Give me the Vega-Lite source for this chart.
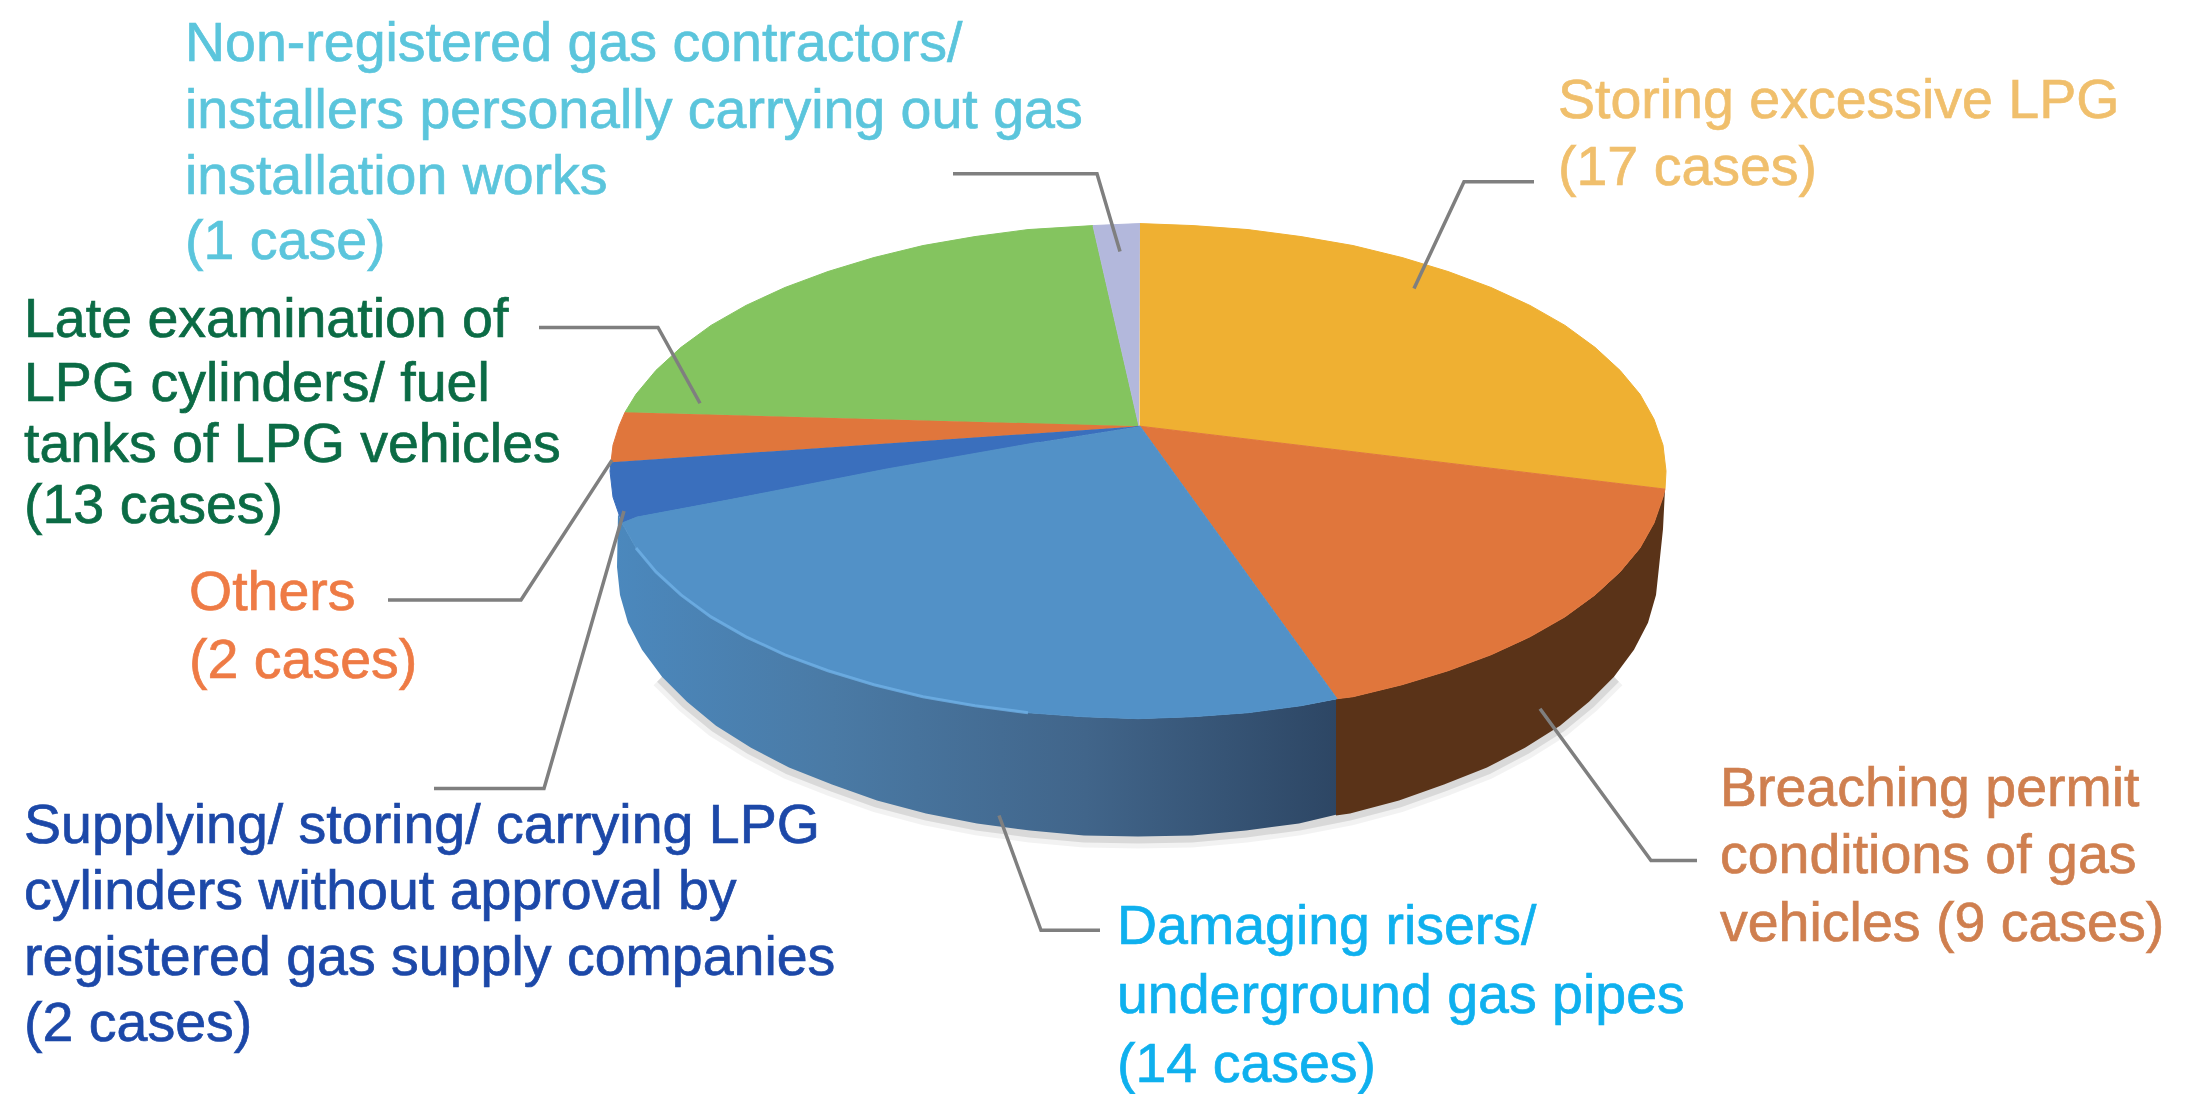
{"$schema":"https://vega.github.io/schema/vega-lite/v6.json","autosize":{"type":"fit","contains":"padding"},"width":2197,"height":1094,"padding":0,"background":"white","config":{"view":{"stroke":null}},
"resolve":{"scale":{"fill":"independent","stroke":"independent"}},
"datasets":{
"shadow":[{"step":3,"x":662,"y":678},{"step":4,"x":687,"y":703},{"step":5,"x":716,"y":727},{"step":6,"x":751,"y":749},{"step":7,"x":789,"y":769},{"step":8,"x":832,"y":786},{"step":9,"x":877,"y":802},{"step":10,"x":926,"y":815},{"step":11,"x":977,"y":825},{"step":12,"x":1030,"y":832},{"step":13,"x":1084,"y":837},{"step":14,"x":1138,"y":838},{"step":15,"x":1192,"y":837},{"step":16,"x":1246,"y":832},{"step":17,"x":1299,"y":825},{"step":18,"x":1350,"y":815},{"step":19,"x":1399,"y":802},{"step":20,"x":1444,"y":786},{"step":21,"x":1487,"y":769},{"step":22,"x":1525,"y":749},{"step":23,"x":1560,"y":727},{"step":24,"x":1589,"y":703},{"step":25,"x":1614,"y":678}],
"blueWall":[{"step":1,"x":618,"y":515},{"step":2,"x":622,"y":524},{"step":3,"x":636,"y":549},{"step":4,"x":656,"y":573},{"step":5,"x":681,"y":596},{"step":6,"x":711,"y":618},{"step":7,"x":746,"y":638},{"step":8,"x":785,"y":656},{"step":9,"x":828,"y":672},{"step":10,"x":874,"y":686},{"step":11,"x":923,"y":698},{"step":12,"x":975,"y":707},{"step":13,"x":1028,"y":714},{"step":14,"x":1083,"y":718},{"step":15,"x":1138,"y":720},{"step":16,"x":1193,"y":718},{"step":17,"x":1248,"y":714},{"step":18,"x":1301,"y":707},{"step":19,"x":1338,"y":700},{"step":20,"x":1337,"y":816},{"step":21,"x":1299,"y":825},{"step":22,"x":1246,"y":832},{"step":23,"x":1192,"y":837},{"step":24,"x":1138,"y":838},{"step":25,"x":1084,"y":837},{"step":26,"x":1030,"y":832},{"step":27,"x":977,"y":825},{"step":28,"x":926,"y":815},{"step":29,"x":877,"y":802},{"step":30,"x":832,"y":786},{"step":31,"x":789,"y":769},{"step":32,"x":751,"y":749},{"step":33,"x":716,"y":727},{"step":34,"x":687,"y":703},{"step":35,"x":662,"y":678},{"step":36,"x":642,"y":651},{"step":37,"x":628,"y":624},{"step":38,"x":620,"y":596},{"step":39,"x":617,"y":568}],
"brownWall":[{"step":1,"x":1336,"y":700},{"step":2,"x":1353,"y":698},{"step":3,"x":1402,"y":686},{"step":4,"x":1448,"y":672},{"step":5,"x":1491,"y":656},{"step":6,"x":1530,"y":638},{"step":7,"x":1565,"y":618},{"step":8,"x":1595,"y":596},{"step":9,"x":1620,"y":573},{"step":10,"x":1640,"y":549},{"step":11,"x":1654,"y":524},{"step":12,"x":1663,"y":498},{"step":13,"x":1665,"y":490},{"step":14,"x":1663,"y":530},{"step":15,"x":1659,"y":568},{"step":16,"x":1656,"y":596},{"step":17,"x":1648,"y":624},{"step":18,"x":1634,"y":651},{"step":19,"x":1614,"y":678},{"step":20,"x":1589,"y":703},{"step":21,"x":1560,"y":727},{"step":22,"x":1525,"y":749},{"step":23,"x":1487,"y":769},{"step":24,"x":1444,"y":786},{"step":25,"x":1399,"y":802},{"step":26,"x":1350,"y":815},{"step":27,"x":1336,"y":817}],
"rim":[{"step":1,"x":636,"y":549},{"step":2,"x":656,"y":573},{"step":3,"x":681,"y":596},{"step":4,"x":711,"y":618},{"step":5,"x":746,"y":638},{"step":6,"x":785,"y":656},{"step":7,"x":828,"y":672},{"step":8,"x":874,"y":686},{"step":9,"x":923,"y":698},{"step":10,"x":975,"y":707},{"step":11,"x":1028,"y":714}],
"slices":[
{"slice":"Storing excessive LPG","cases":17,"step":1,"x":1140,"y":427},{"slice":"Storing excessive LPG","cases":17,"step":2,"x":1140,"y":224},{"slice":"Storing excessive LPG","cases":17,"step":3,"x":1193,"y":226},{"slice":"Storing excessive LPG","cases":17,"step":4,"x":1248,"y":230},{"slice":"Storing excessive LPG","cases":17,"step":5,"x":1301,"y":237},{"slice":"Storing excessive LPG","cases":17,"step":6,"x":1353,"y":246},{"slice":"Storing excessive LPG","cases":17,"step":7,"x":1402,"y":258},{"slice":"Storing excessive LPG","cases":17,"step":8,"x":1448,"y":272},{"slice":"Storing excessive LPG","cases":17,"step":9,"x":1491,"y":288},{"slice":"Storing excessive LPG","cases":17,"step":10,"x":1530,"y":306},{"slice":"Storing excessive LPG","cases":17,"step":11,"x":1565,"y":326},{"slice":"Storing excessive LPG","cases":17,"step":12,"x":1595,"y":348},{"slice":"Storing excessive LPG","cases":17,"step":13,"x":1620,"y":371},{"slice":"Storing excessive LPG","cases":17,"step":14,"x":1640,"y":395},{"slice":"Storing excessive LPG","cases":17,"step":15,"x":1654,"y":420},{"slice":"Storing excessive LPG","cases":17,"step":16,"x":1663,"y":446},{"slice":"Storing excessive LPG","cases":17,"step":17,"x":1666,"y":472},{"slice":"Storing excessive LPG","cases":17,"step":18,"x":1665,"y":490},
{"slice":"Breaching permit conditions of gas vehicles","cases":9,"step":1,"x":1140,"y":427},{"slice":"Breaching permit conditions of gas vehicles","cases":9,"step":2,"x":1665,"y":490},{"slice":"Breaching permit conditions of gas vehicles","cases":9,"step":3,"x":1663,"y":498},{"slice":"Breaching permit conditions of gas vehicles","cases":9,"step":4,"x":1654,"y":524},{"slice":"Breaching permit conditions of gas vehicles","cases":9,"step":5,"x":1640,"y":549},{"slice":"Breaching permit conditions of gas vehicles","cases":9,"step":6,"x":1620,"y":573},{"slice":"Breaching permit conditions of gas vehicles","cases":9,"step":7,"x":1595,"y":596},{"slice":"Breaching permit conditions of gas vehicles","cases":9,"step":8,"x":1565,"y":618},{"slice":"Breaching permit conditions of gas vehicles","cases":9,"step":9,"x":1530,"y":638},{"slice":"Breaching permit conditions of gas vehicles","cases":9,"step":10,"x":1491,"y":656},{"slice":"Breaching permit conditions of gas vehicles","cases":9,"step":11,"x":1448,"y":672},{"slice":"Breaching permit conditions of gas vehicles","cases":9,"step":12,"x":1402,"y":686},{"slice":"Breaching permit conditions of gas vehicles","cases":9,"step":13,"x":1353,"y":698},{"slice":"Breaching permit conditions of gas vehicles","cases":9,"step":14,"x":1337,"y":700},
{"slice":"Late examination of LPG cylinders/ fuel tanks","cases":13,"step":1,"x":1139,"y":427},{"slice":"Late examination of LPG cylinders/ fuel tanks","cases":13,"step":2,"x":625,"y":413},{"slice":"Late examination of LPG cylinders/ fuel tanks","cases":13,"step":3,"x":636,"y":395},{"slice":"Late examination of LPG cylinders/ fuel tanks","cases":13,"step":4,"x":656,"y":371},{"slice":"Late examination of LPG cylinders/ fuel tanks","cases":13,"step":5,"x":681,"y":348},{"slice":"Late examination of LPG cylinders/ fuel tanks","cases":13,"step":6,"x":711,"y":326},{"slice":"Late examination of LPG cylinders/ fuel tanks","cases":13,"step":7,"x":746,"y":306},{"slice":"Late examination of LPG cylinders/ fuel tanks","cases":13,"step":8,"x":785,"y":288},{"slice":"Late examination of LPG cylinders/ fuel tanks","cases":13,"step":9,"x":828,"y":272},{"slice":"Late examination of LPG cylinders/ fuel tanks","cases":13,"step":10,"x":874,"y":258},{"slice":"Late examination of LPG cylinders/ fuel tanks","cases":13,"step":11,"x":923,"y":246},{"slice":"Late examination of LPG cylinders/ fuel tanks","cases":13,"step":12,"x":975,"y":237},{"slice":"Late examination of LPG cylinders/ fuel tanks","cases":13,"step":13,"x":1028,"y":230},{"slice":"Late examination of LPG cylinders/ fuel tanks","cases":13,"step":14,"x":1093,"y":226},
{"slice":"Others","cases":2,"step":1,"x":1140,"y":427},{"slice":"Others","cases":2,"step":2,"x":611,"y":463},{"slice":"Others","cases":2,"step":3,"x":613,"y":446},{"slice":"Others","cases":2,"step":4,"x":619,"y":427},{"slice":"Others","cases":2,"step":5,"x":625,"y":413},
{"slice":"Supplying/ storing/ carrying LPG cylinders without approval","cases":2,"step":1,"x":1140,"y":427},{"slice":"Supplying/ storing/ carrying LPG cylinders without approval","cases":2,"step":2,"x":1039,"y":443},{"slice":"Supplying/ storing/ carrying LPG cylinders without approval","cases":2,"step":3,"x":886,"y":470},{"slice":"Supplying/ storing/ carrying LPG cylinders without approval","cases":2,"step":4,"x":733,"y":500},{"slice":"Supplying/ storing/ carrying LPG cylinders without approval","cases":2,"step":5,"x":637,"y":518},{"slice":"Supplying/ storing/ carrying LPG cylinders without approval","cases":2,"step":6,"x":622,"y":524},{"slice":"Supplying/ storing/ carrying LPG cylinders without approval","cases":2,"step":7,"x":613,"y":498},{"slice":"Supplying/ storing/ carrying LPG cylinders without approval","cases":2,"step":8,"x":610,"y":472},{"slice":"Supplying/ storing/ carrying LPG cylinders without approval","cases":2,"step":9,"x":611,"y":463},
{"slice":"Damaging risers/ underground gas pipes","cases":14,"step":1,"x":1140,"y":427},{"slice":"Damaging risers/ underground gas pipes","cases":14,"step":2,"x":1337,"y":700},{"slice":"Damaging risers/ underground gas pipes","cases":14,"step":3,"x":1301,"y":707},{"slice":"Damaging risers/ underground gas pipes","cases":14,"step":4,"x":1248,"y":714},{"slice":"Damaging risers/ underground gas pipes","cases":14,"step":5,"x":1193,"y":718},{"slice":"Damaging risers/ underground gas pipes","cases":14,"step":6,"x":1138,"y":720},{"slice":"Damaging risers/ underground gas pipes","cases":14,"step":7,"x":1083,"y":718},{"slice":"Damaging risers/ underground gas pipes","cases":14,"step":8,"x":1028,"y":714},{"slice":"Damaging risers/ underground gas pipes","cases":14,"step":9,"x":975,"y":707},{"slice":"Damaging risers/ underground gas pipes","cases":14,"step":10,"x":923,"y":698},{"slice":"Damaging risers/ underground gas pipes","cases":14,"step":11,"x":874,"y":686},{"slice":"Damaging risers/ underground gas pipes","cases":14,"step":12,"x":828,"y":672},{"slice":"Damaging risers/ underground gas pipes","cases":14,"step":13,"x":785,"y":656},{"slice":"Damaging risers/ underground gas pipes","cases":14,"step":14,"x":746,"y":638},{"slice":"Damaging risers/ underground gas pipes","cases":14,"step":15,"x":711,"y":618},{"slice":"Damaging risers/ underground gas pipes","cases":14,"step":16,"x":681,"y":596},{"slice":"Damaging risers/ underground gas pipes","cases":14,"step":17,"x":656,"y":573},{"slice":"Damaging risers/ underground gas pipes","cases":14,"step":18,"x":636,"y":549},{"slice":"Damaging risers/ underground gas pipes","cases":14,"step":19,"x":622,"y":524},{"slice":"Damaging risers/ underground gas pipes","cases":14,"step":20,"x":637,"y":518},{"slice":"Damaging risers/ underground gas pipes","cases":14,"step":21,"x":733,"y":500},{"slice":"Damaging risers/ underground gas pipes","cases":14,"step":22,"x":886,"y":470},{"slice":"Damaging risers/ underground gas pipes","cases":14,"step":23,"x":1039,"y":443},
{"slice":"Non-registered gas contractors/ installers","cases":1,"step":1,"x":1139,"y":427},{"slice":"Non-registered gas contractors/ installers","cases":1,"step":2,"x":1093,"y":226},{"slice":"Non-registered gas contractors/ installers","cases":1,"step":3,"x":1116,"y":225},{"slice":"Non-registered gas contractors/ installers","cases":1,"step":4,"x":1140,"y":224}],
"leaders":[
{"leader":"a","step":1,"x":953,"y":174},{"leader":"a","step":2,"x":1097,"y":174},{"leader":"a","step":3,"x":1120,"y":252},
{"leader":"b","step":1,"x":1534,"y":182},{"leader":"b","step":2,"x":1464,"y":182},{"leader":"b","step":3,"x":1414,"y":289},
{"leader":"c","step":1,"x":539,"y":328},{"leader":"c","step":2,"x":658,"y":328},{"leader":"c","step":3,"x":700,"y":404},
{"leader":"d","step":1,"x":388,"y":601},{"leader":"d","step":2,"x":521,"y":601},{"leader":"d","step":3,"x":612,"y":461},
{"leader":"e","step":1,"x":434,"y":790},{"leader":"e","step":2,"x":544,"y":790},{"leader":"e","step":3,"x":624,"y":512},
{"leader":"f","step":1,"x":1100,"y":932},{"leader":"f","step":2,"x":1041,"y":932},{"leader":"f","step":3,"x":999,"y":817},
{"leader":"g","step":1,"x":1697,"y":862},{"leader":"g","step":2,"x":1651,"y":862},{"leader":"g","step":3,"x":1540,"y":710}],
"labels":[
{"group":"nonreg","text":"Non-registered gas contractors/","x":185,"y":44},{"group":"nonreg","text":"installers personally carrying out gas","x":185,"y":111},{"group":"nonreg","text":"installation works","x":185,"y":177},{"group":"nonreg","text":"(1 case)","x":185,"y":242},
{"group":"storing","text":"Storing excessive LPG","x":1558,"y":101},{"group":"storing","text":"(17 cases)","x":1558,"y":168},
{"group":"late","text":"Late examination of","x":24,"y":321},{"group":"late","text":"LPG cylinders/ fuel","x":24,"y":385},{"group":"late","text":"tanks of LPG vehicles","x":24,"y":446},{"group":"late","text":"(13 cases)","x":24,"y":507},
{"group":"others","text":"Others","x":189,"y":594},{"group":"others","text":"(2 cases)","x":189,"y":662},
{"group":"supplying","text":"Supplying/ storing/ carrying LPG","x":24,"y":828},{"group":"supplying","text":"cylinders without approval by","x":24,"y":894},{"group":"supplying","text":"registered gas supply companies","x":24,"y":960},{"group":"supplying","text":"(2 cases)","x":24,"y":1026},
{"group":"damaging","text":"Damaging risers/","x":1117,"y":929},{"group":"damaging","text":"underground gas pipes","x":1117,"y":998},{"group":"damaging","text":"(14 cases)","x":1117,"y":1067},
{"group":"breaching","text":"Breaching permit","x":1720,"y":790},{"group":"breaching","text":"conditions of gas","x":1720,"y":858},{"group":"breaching","text":"vehicles (9 cases)","x":1720,"y":926}]
},
"encoding":{"x":{"field":"x","type":"quantitative","scale":{"domain":[0,2197]},"axis":null},"y":{"field":"y","type":"quantitative","scale":{"domain":[1094,0]},"axis":null},"order":{"field":"step"}},
"layer":[
{"data":{"name":"shadow"},"mark":{"type":"line","stroke":"#000000","strokeWidth":24,"opacity":0.05}},
{"data":{"name":"shadow"},"mark":{"type":"line","stroke":"#000000","strokeWidth":14,"opacity":0.1}},
{"data":{"name":"blueWall"},"mark":{"type":"line","strokeWidth":0,"fill":{"x1":0,"x2":1,"y1":0,"y2":0,"gradient":"linear","stops":[{"offset":0,"color":"#4b88bd"},{"offset":0.3,"color":"#4a7aa5"},{"offset":0.65,"color":"#41658a"},{"offset":1,"color":"#2d4664"}]}}},
{"data":{"name":"brownWall"},"mark":{"type":"line","strokeWidth":0,"fill":"#5a3318"}},
{"data":{"name":"slices"},"mark":{"type":"line","strokeWidth":1,"filled":true},"encoding":{"detail":{"field":"slice"},"fill":{"field":"slice","type":"nominal","legend":null,"scale":{"domain":["Storing excessive LPG","Breaching permit conditions of gas vehicles","Damaging risers/ underground gas pipes","Supplying/ storing/ carrying LPG cylinders without approval","Others","Late examination of LPG cylinders/ fuel tanks","Non-registered gas contractors/ installers"],"range":["#efb032","#e0763c","#5291c7","#3a6fbd","#e0763c","#84c45f","#b3b8dc"]}},"stroke":{"field":"slice","type":"nominal","legend":null,"scale":{"domain":["Storing excessive LPG","Breaching permit conditions of gas vehicles","Damaging risers/ underground gas pipes","Supplying/ storing/ carrying LPG cylinders without approval","Others","Late examination of LPG cylinders/ fuel tanks","Non-registered gas contractors/ installers"],"range":["#efb032","#e0763c","#5291c7","#3a6fbd","#e0763c","#84c45f","#b3b8dc"]}}}},
{"data":{"name":"rim"},"mark":{"type":"line","stroke":"#6fb0e6","strokeWidth":3,"opacity":0.8}},
{"data":{"name":"leaders"},"mark":{"type":"line","stroke":"#7f7f7f","strokeWidth":3.5},"encoding":{"detail":{"field":"leader"}}},
{"data":{"name":"labels"},"mark":{"type":"text","font":"Liberation Sans","fontSize":55.5,"align":"left","baseline":"middle","strokeWidth":0.7},"encoding":{"order":null,"text":{"field":"text"},"fill":{"field":"group","type":"nominal","legend":null,"scale":{"domain":["nonreg","storing","late","others","supplying","damaging","breaching"],"range":["#5bc5dc","#f0bf6c","#0b6b45","#ee7b45","#1c48a8","#0fb0ee","#cf7f4f"]}},"stroke":{"field":"group","type":"nominal","legend":null,"scale":{"domain":["nonreg","storing","late","others","supplying","damaging","breaching"],"range":["#5bc5dc","#f0bf6c","#0b6b45","#ee7b45","#1c48a8","#0fb0ee","#cf7f4f"]}}}}
]}
